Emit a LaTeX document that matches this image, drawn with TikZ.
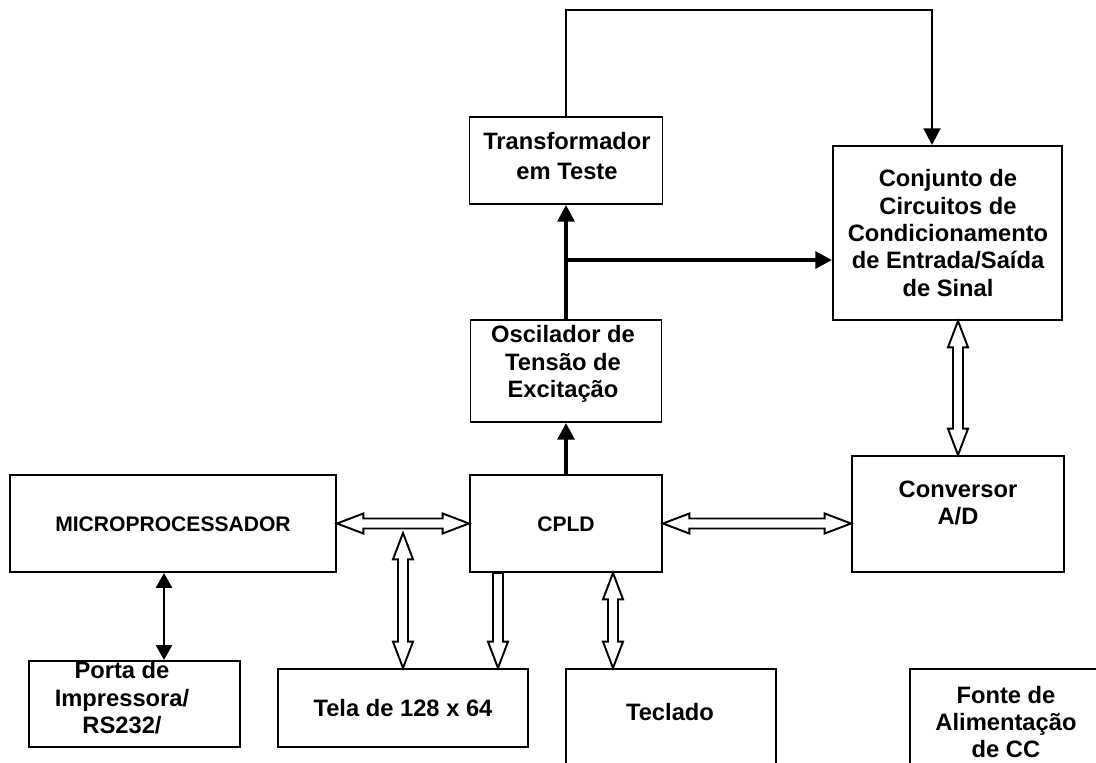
\documentclass[tikz,border=0pt]{standalone}
\usepackage{fontspec}
\setmainfont{Liberation Sans}
\usetikzlibrary{calc,arrows.meta}
\newcommand{\pix}{0.02cm}
\newcommand{\headlen}{15pt}
\newcommand{\headhalf}{5.7pt}
\newcommand{\shafthalf}{2.85pt}
% hollow bus arrow, heads at both ends
\newcommand{\busboth}[2]{%
\draw[bus] (#1)
 -- ($(#1)!\headlen!(#2)!\headhalf!90:(#2)$)
 -- ($(#1)!\headlen!(#2)!\shafthalf!90:(#2)$)
 -- ($(#2)!\headlen!(#1)!\shafthalf!-90:(#1)$)
 -- ($(#2)!\headlen!(#1)!\headhalf!-90:(#1)$)
 -- (#2)
 -- ($(#2)!\headlen!(#1)!\headhalf!90:(#1)$)
 -- ($(#2)!\headlen!(#1)!\shafthalf!90:(#1)$)
 -- ($(#1)!\headlen!(#2)!\shafthalf!-90:(#2)$)
 -- ($(#1)!\headlen!(#2)!\headhalf!-90:(#2)$)
 -- cycle;}
% hollow bus arrow, head at the end only
\newcommand{\busone}[2]{%
\draw[bus] ($(#1)!\shafthalf!90:(#2)$)
 -- ($(#2)!\headlen!(#1)!\shafthalf!-90:(#1)$)
 -- ($(#2)!\headlen!(#1)!\headhalf!-90:(#1)$)
 -- (#2)
 -- ($(#2)!\headlen!(#1)!\headhalf!90:(#1)$)
 -- ($(#2)!\headlen!(#1)!\shafthalf!90:(#1)$)
 -- ($(#1)!\shafthalf!-90:(#2)$)
 -- cycle;}
\tikzset{
  blk/.style={draw, line width=1.1pt, inner sep=0pt},
  txt/.style={font=\bfseries\fontsize{13.5}{15.6}\selectfont, align=center, inner sep=0pt},
  txtsm/.style={font=\bfseries\fontsize{12}{14}\selectfont, align=center, inner sep=0pt},
  sig/.style={line width=2.2pt, -{Triangle[length=9.5pt,width=9.5pt]}},
  sigboth/.style={line width=1.7pt, {Triangle[length=8.5pt,width=9pt]}-{Triangle[length=8.5pt,width=9pt]}},
  fbline/.style={line width=1.6pt, -{Triangle[length=9.5pt,width=9.5pt]}},
  bus/.style={line width=1.1pt, fill=white, line join=miter}
}

\begin{document}
\begin{tikzpicture}[x=\pix,y=-\pix]
\useasboundingbox (0,0) rectangle (1096,763);
\clip (0,0) rectangle (1096,763);
% blocks
\node[blk, minimum width=193*\pix, minimum height=87*\pix] (trans) at (566,160.5) {};
\node[blk, minimum width=229*\pix, minimum height=174*\pix] (conj) at (947.5,233) {};
\node[blk, minimum width=191*\pix, minimum height=102*\pix] (osc) at (566,371) {};
\node[blk, minimum width=326*\pix, minimum height=97*\pix] (micro) at (173,523.5) {};
\node[blk, minimum width=192*\pix, minimum height=97*\pix] (cpld) at (566,523.5) {};
\node[blk, minimum width=212*\pix, minimum height=116*\pix] (conv) at (958,514) {};
\node[blk, minimum width=211*\pix, minimum height=86*\pix] (porta) at (134.5,704) {};
\node[blk, minimum width=250*\pix, minimum height=78*\pix] (tela) at (403,708) {};
\node[blk, minimum width=210*\pix, minimum height=151*\pix] (tecl) at (671,744.5) {};
\node[blk, minimum width=210*\pix, minimum height=151*\pix] (fonte) at (1015,744.5) {};
% texts
\node[txt] (transtxt) at (567,156) {Transformador\\[1.5pt]em Teste};
\node[txt] (conjtxt) at (948,233) {Conjunto de\\Circuitos de\\Condicionamento\\de Entrada/Saída\\de Sinal};
\node[txt] (osctxt) at (563,364) {Oscilador de\\Tensão de\\Excitação};
\node[txtsm] (microtxt) at (173,524) {MICROPROCESSADOR};
\node[txtsm] (cpldtxt) at (566,524) {CPLD};
\node[txt] (convtxt) at (958,503) {Conversor\\A/D};
\node[txt] (portatxt) at (122,698) {Porta de\\Impressora/\\RS232/};
\node[txt] (telatxt) at (403,708) {Tela de 128 x 64};
\node[txt] (tecltxt) at (670,712) {Teclado};
\node[txt] (fontetxt) at (1006,722) {Fonte de\\Alimentação\\de CC};
% helper points
\coordinate (fb) at (932,10);
\path (osc.north) ++(0,-59) coordinate (split);
\coordinate (mpx) at (164,0);
\coordinate (tlx) at (498,0);
\coordinate (tcx) at (613,0);
\coordinate (busdrop) at (403,533);
\coordinate (conjbot) at (conj.south -| conv.north);
\coordinate (convin) at (cpld.east -| conv.west);
% signal lines
\draw[sig] (cpld.north) -- (osc.south);
\draw[sig] (osc.north) -- (trans.south);
\draw[sig] (split) -- (conj.west |- split);
\draw[fbline] (trans.north) |- (fb) -- (conj.north -| fb);
\draw[sigboth] (micro.south -| mpx) -- (porta.north -| mpx);
% buses
\busboth{micro.east}{cpld.west}
\busboth{cpld.east}{convin}
\busboth{conjbot}{conv.north}
\busboth{busdrop}{tela.north}
\busone{cpld.south -| tlx}{tela.north -| tlx}
\busboth{cpld.south -| tcx}{tecl.north -| tcx}
\end{tikzpicture}
\end{document}
